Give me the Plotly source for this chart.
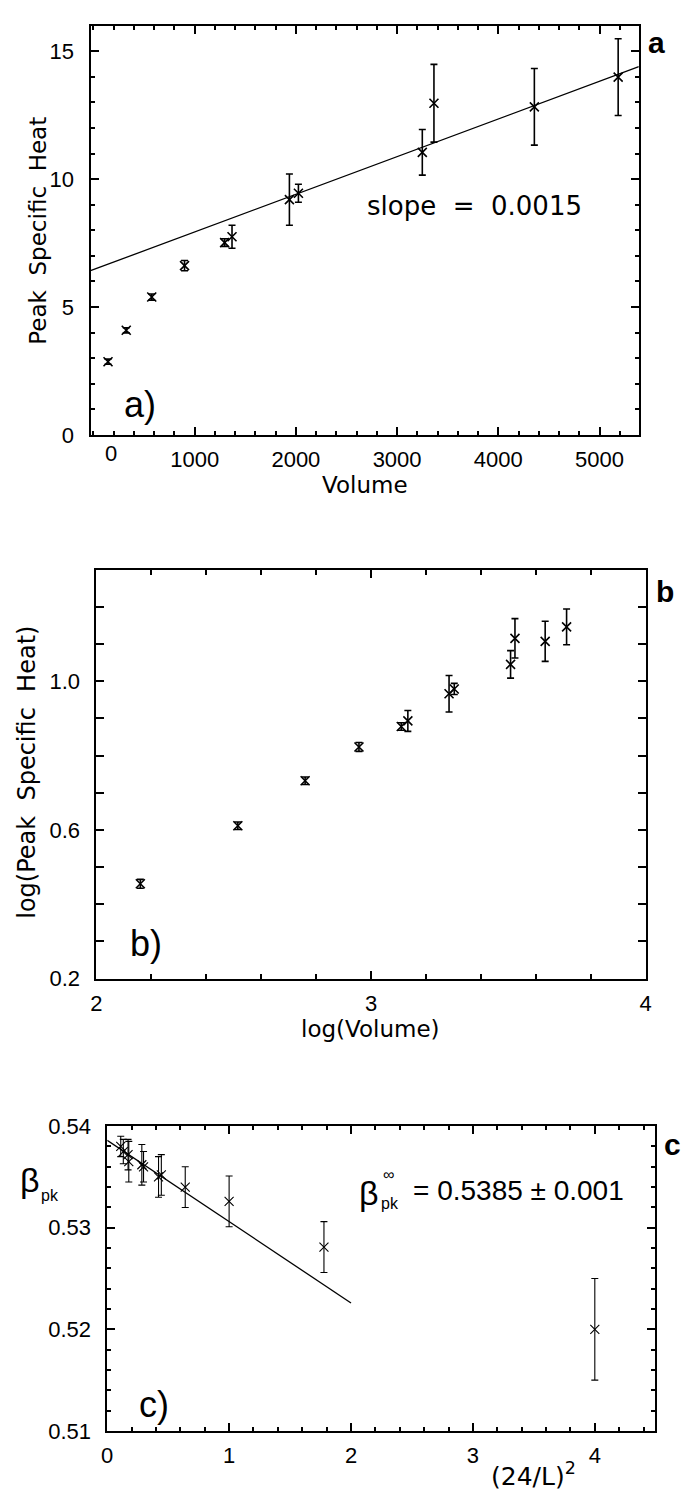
import plotly.graph_objects as go

W, H = 691, 1502

# panel a: peak specific heat against volume
volume = [144, 324, 576, 900, 1296, 1369, 1936, 2025, 3249, 3364, 4356, 5184]
peak_heat = [2.86, 4.09, 5.39, 6.62, 7.52, 7.75, 9.20, 9.45, 11.05, 12.97, 12.83, 13.99]
peak_err = [0.10, 0.10, 0.12, 0.20, 0.15, 0.45, 1.00, 0.35, 0.89, 1.52, 1.50, 1.50]
fit_a_x = [-29, 5388]
fit_a_y = [6.42, 14.40]

# panel b: log-log
log_volume = [2.16, 2.515, 2.76, 2.956, 3.11, 3.134, 3.284, 3.303, 3.508, 3.524, 3.634, 3.712]
log_heat = [0.455, 0.611, 0.732, 0.823, 0.878, 0.893, 0.966, 0.979, 1.045, 1.115, 1.107, 1.146]
log_err = [0.012, 0.010, 0.010, 0.012, 0.010, 0.028, 0.049, 0.015, 0.037, 0.053, 0.054, 0.048]

# panel c: beta_pk against (24/L)^2
inv_size = [0.111, 0.132, 0.171, 0.177, 0.284, 0.298, 0.421, 0.444, 0.640, 1.000, 1.778, 4.000]
beta_pk = [0.5380, 0.5375, 0.5372, 0.5365, 0.5362, 0.5360, 0.5350, 0.5352, 0.5340, 0.5326, 0.5281, 0.5200]
beta_err = [0.0010, 0.0012, 0.0015, 0.0020, 0.0020, 0.0015, 0.0020, 0.0020, 0.0020, 0.0025, 0.0025, 0.0050]
fit_c_x = [0, 2]
fit_c_y = [0.5386, 0.5226]

TICKFONT = dict(family="Liberation Sans", size=22, color="black")
TEXTFONT = "DejaVu Sans"


def px(x):
    return x / W


def py(y):
    return 1 - y / H


def points(x, y, err, xa, ya, lw=1.6):
    return go.Scatter(x=x, y=y, mode="markers", xaxis=xa, yaxis=ya,
                      marker=dict(symbol="x-thin", size=9, color="black",
                                  line=dict(width=lw, color="black")),
                      error_y=dict(type="data", array=err, color="black",
                                   thickness=lw, width=3.5),
                      showlegend=False)


def fitline(x, y, xa, ya):
    return go.Scatter(x=x, y=y, mode="lines", xaxis=xa, yaxis=ya,
                      line=dict(color="black", width=1.3), showlegend=False)


def axis(domain, rng, anchor, minor_dtick, lw=2, mlen=4, **kw):
    d = dict(domain=domain, range=rng, anchor=anchor,
             ticks="inside", ticklen=8, tickwidth=1.5, tickcolor="black",
             showline=True, linecolor="black", linewidth=lw, mirror="ticks",
             showgrid=False, zeroline=False, tickfont=TICKFONT,
             ticklabelstandoff=4,
             minor=dict(dtick=minor_dtick, ticks="inside", ticklen=mlen,
                        tickwidth=1.5, tickcolor="black", showgrid=False))
    d.update(kw)
    return d


fig = go.Figure()
fig.add_trace(fitline(fit_a_x, fit_a_y, "x", "y"))
fig.add_trace(points(volume, peak_heat, peak_err, "x", "y"))
fig.add_trace(points(log_volume, log_heat, log_err, "x2", "y2"))
fig.add_trace(fitline(fit_c_x, fit_c_y, "x3", "y3"))
fig.add_trace(points(inv_size, beta_pk, beta_err, "x3", "y3", lw=1.1))

fig.update_layout(
    width=W, height=H, margin=dict(l=0, r=0, t=0, b=0),
    plot_bgcolor="white", paper_bgcolor="white",
    xaxis=axis([px(86), px(644)], [-29, 5388], "y", 200,
               tickmode="array", tickvals=[1000, 2000, 3000, 4000, 5000]),
    yaxis=axis([py(430), py(14)], [0, 16], "x", 1, dtick=5, ticklabelstandoff=10),
    xaxis2=axis([px(92), px(651)], [2, 4], "y2", 0.2, dtick=1, mlen=5),
    yaxis2=axis([py(983), py(567)], [0.2, 1.3], "x2", 0.1, mlen=8,
                tickmode="array", tickvals=[0.2, 0.6, 1.0], tickformat=".1f",
                ticklabelstandoff=10),
    xaxis3=axis([px(103), px(660)], [0, 4.49], "y3", 0.2, lw=1.5, dtick=1),
    yaxis3=axis([py(1443), py(1133)], [0.51, 0.54], "x3", 0.002, lw=1.5,
                dtick=0.01, tickformat=".2f", ticklabelstandoff=10),
)

anns = []


def ann(text, x, y, size, family=TEXTFONT, xref="paper", yref="paper", **kw):
    a = dict(text=text, x=x, y=y, xref=xref, yref=yref, showarrow=False,
             xanchor="center", yanchor="middle",
             font=dict(family=family, size=size, color="black"))
    a.update(kw)
    anns.append(a)


# panel a
ann("0", 175, py(449), 22, family="Liberation Sans", xref="x")
ann("Volume", px(365), py(481), 23)
ann("Peak  Specific  Heat", px(33), py(222), 23, textangle=-90)
ann("slope  =  0.0015", 3767, 8.96, 26, xref="x", yref="y")
ann("a)", px(136), py(399), 36, family="Liberation Sans")
ann("<b>a</b>", px(662), py(31), 30, family="Liberation Sans")

# panel b
ann("log(Volume)", px(371), py(1034), 23)
ann("log(Peak  Specific  Heat)", px(22), py(773), 24, textangle=-90)
ann("b)", px(142), py(947), 36, family="Liberation Sans")
ann("<b>b</b>", px(671), py(589), 30, family="Liberation Sans")

# panel c
ann("β", px(24), py(1188), 34, family="Liberation Sans")
ann("pk", px(45), py(1204), 16, family="Liberation Sans")
ann("(24/L)<sup>2</sup>", px(537), py(1487), 25)
ann("c)", px(151), py(1416), 36, family="Liberation Sans")
ann("<b>c</b>", px(689), py(1152), 30, family="Liberation Sans", xanchor="right")
ann("β", px(369), py(1201), 34, family="Liberation Sans")
ann("∞", px(389), py(1182), 16, family="Liberation Sans")
ann("pk", px(391), py(1212), 16, family="Liberation Sans")
ann("= 0.5385 ± 0.001", px(522), py(1198), 28, family="Liberation Sans")

fig.update_layout(annotations=anns)
fig.write_html("out.html", config={"displayModeBar": False},
               post_script="document.body.style.margin='0';"
                           "document.body.style.overflow='hidden';")
